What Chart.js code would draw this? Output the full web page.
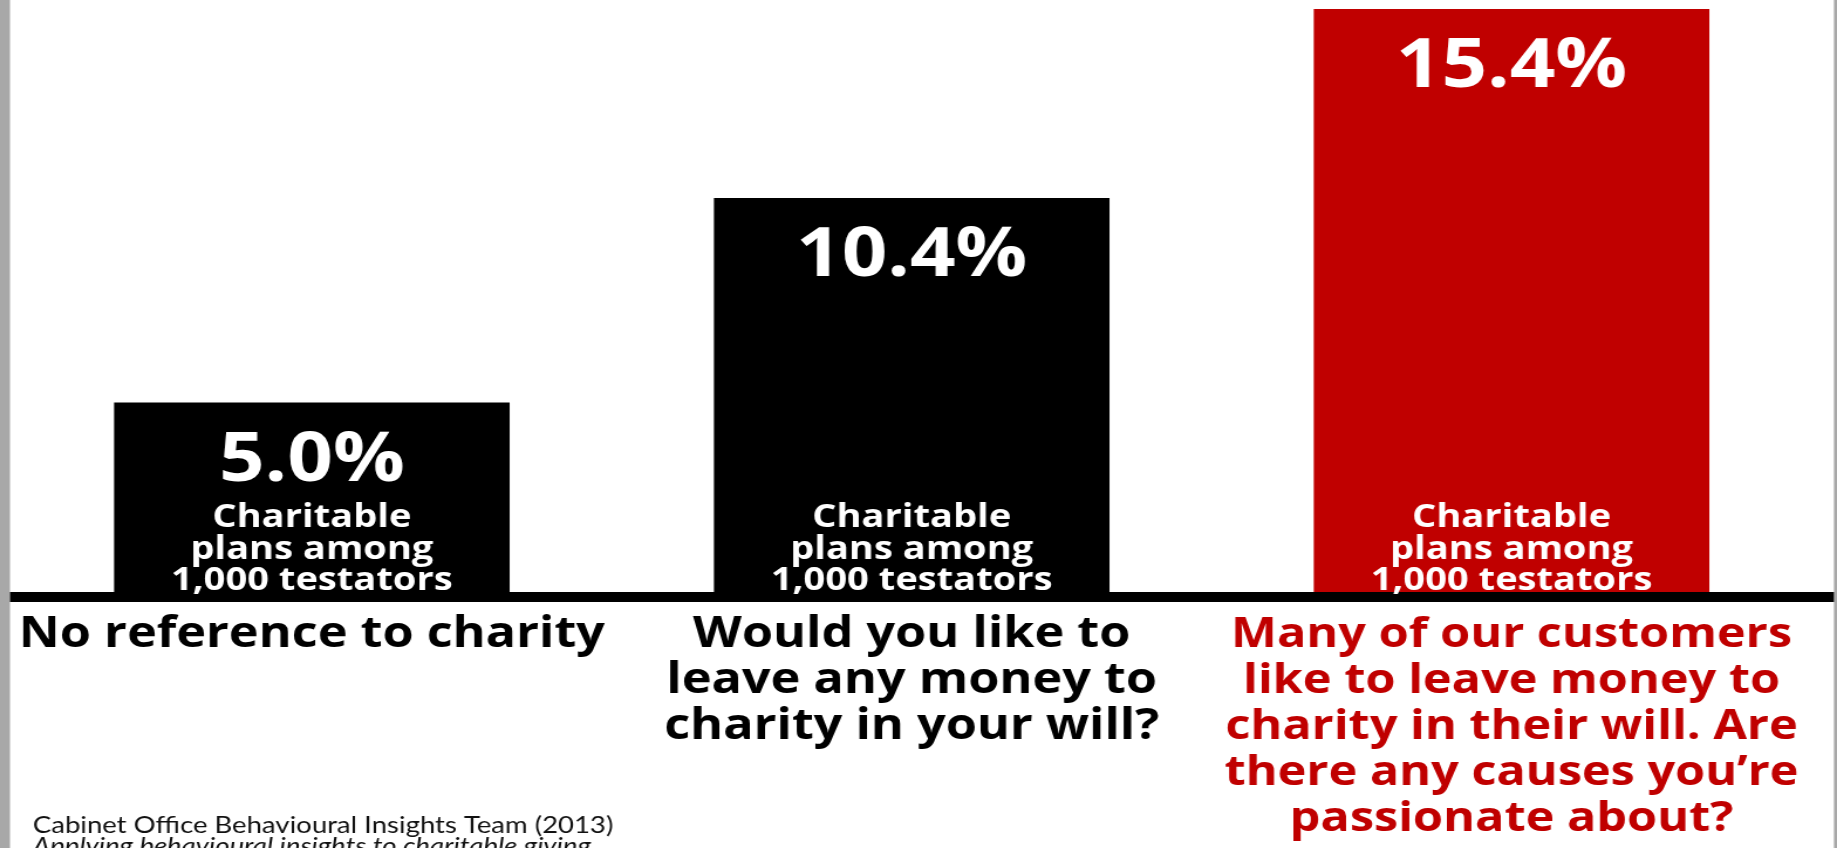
<!DOCTYPE html>
<html>
<head>
<meta charset="utf-8">
<script src="https://cdn.jsdelivr.net/npm/chart.js@4"></script>
<style>
  html, body { margin: 0; padding: 0; background: #fff; overflow: hidden; }
  /* slide is stored narrow and stretched to the full window width */
  #wrap { position: absolute; left: 0; top: 0; width: 1568px; height: 848px;
          transform: scaleX(1.171556); transform-origin: 0 0; }
</style>
</head>
<body>
<div id="wrap"><canvas id="chart"></canvas></div>
<script>
/* ---------- данные ---------- */
const categories = [
  ['No reference to charity'],
  ['Would you like to', 'leave any money to', 'charity in your will?'],
  ['Many of our customers', 'like to leave money to', 'charity in their will. Are',
   'there any causes you\u2019re', 'passionate about?']
];
const shares = [5.0, 10.4, 15.4];            // % of testators with charitable plans
const barNote = ['Charitable', 'plans among', '1,000 testators'];
const barColors = ['#000000', '#000000', '#c00000'];
const labelColors = ['#000000', '#000000', '#c00000'];
const labelSizes = [43, 43, 41.5];
const source = ['Cabinet Office Behavioural Insights Team (2013)',
                'Applying behavioural insights to charitable giving'];

const FONT = '"Open Sans", "DejaVu Sans", sans-serif';

/* ---------- фон, рамка, базовая линия, подписи ---------- */
const slide = {
  id: 'slide',
  beforeDraw(chart) {
    const {ctx, width, height} = chart;
    ctx.save();
    ctx.fillStyle = '#fff';
    ctx.fillRect(0, 0, width, height);
    ctx.fillStyle = '#a8a8a8';
    ctx.fillRect(0, 0, 8.5, height);
    ctx.fillRect(width - 2.6, 0, 2.6, height);
    ctx.restore();
  },
  afterDatasetsDraw(chart) {
    const {ctx, width} = chart;
    const y0 = chart.scales.y.getPixelForValue(0);
    ctx.save();
    // baseline under the bars
    ctx.fillStyle = '#000';
    ctx.fillRect(8.5, y0, width - 8.5 - 2.6, 10);

    // value and note inside each bar
    ctx.fillStyle = '#fff';
    ctx.textAlign = 'center';
    ctx.textBaseline = 'alphabetic';
    chart.getDatasetMeta(0).data.forEach((bar, i) => {
      ctx.font = `bold 68px ${FONT}`;
      ctx.fillText(shares[i].toFixed(1) + '%', bar.x, bar.y + 78);
      ctx.font = `bold 32.5px ${FONT}`;
      barNote.forEach((t, k) => ctx.fillText(t, bar.x, y0 - 65 + k * 31.5));
    });

    // source line, bottom left
    ctx.fillStyle = '#111';
    ctx.textAlign = 'left';
    ctx.font = `23.5px Lato, ${FONT}`;
    ctx.fillText(source[0], 28, 833);
    ctx.font = `italic 23.5px Lato, ${FONT}`;
    ctx.fillText(source[1], 28, 854);
    ctx.restore();
  }
};

new Chart(document.getElementById('chart'), {
  type: 'bar',
  data: {
    labels: categories,
    datasets: [{
      data: shares,
      backgroundColor: barColors,
      borderWidth: 0,
      barThickness: 337
    }]
  },
  options: {
    responsive: true,
    maintainAspectRatio: false,
    animation: false,
    layout: { padding: { top: 9, left: 10.2, right: 21.8, bottom: 0 } },
    plugins: { legend: { display: false }, tooltip: { enabled: false } },
    scales: {
      x: {
        grid: { display: false, drawTicks: false },
        border: { display: false },
        ticks: {
          font: c => ({ family: FONT, weight: 'bold', size: labelSizes[c.index], lineHeight: '46px' }),
          color: c => labelColors[c.index],
          padding: 20,
          maxRotation: 0, minRotation: 0, autoSkip: false
        },
        // fixed axis height, no extra side padding for the wide labels
        afterFit: s => { s.height = 256; s.paddingLeft = 0; s.paddingRight = 0; }
      },
      y: { display: false, min: 0, max: 15.4 }
    }
  },
  plugins: [slide]
});
</script>
</body>
</html>
